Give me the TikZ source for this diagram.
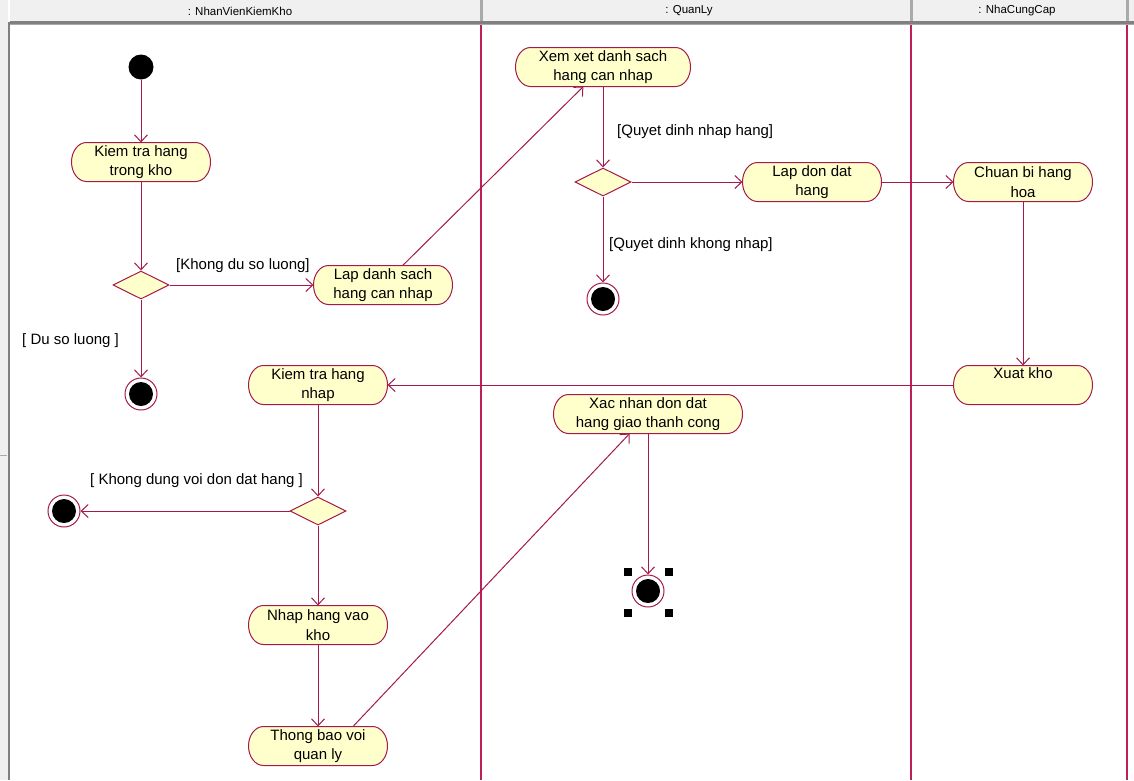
\documentclass[tikz,border=0pt]{standalone}
\usepackage{fontspec}
\setmainfont{Liberation Sans}
\usetikzlibrary{shapes.geometric,arrows.meta}
\pgfdeclarelayer{bg}
\pgfdeclarelayer{shp}
\pgfsetlayers{bg,shp,main}
\definecolor{lc}{RGB}{165,25,75}
\definecolor{ll}{RGB}{190,30,90}
\definecolor{nf}{RGB}{255,255,204}
\definecolor{hg}{RGB}{240,240,240}
\definecolor{hd}{RGB}{128,128,128}
\definecolor{hl}{RGB}{170,170,170}
\newcommand\myfont{\fontsize{15}{19.5}\selectfont}
\newcommand\myhfont{\fontsize{11.5}{13}\selectfont}
\begin{document}
\begin{tikzpicture}[x=1pt,y=-1pt,
  act/.style={rectangle, minimum width=109pt, minimum height=39pt, inner sep=0pt,
    outer xsep=15pt, outer ysep=0pt, align=center, font=\myfont},
  actshape/.style={draw=lc, fill=nf, line width=1pt},
  dec/.style={diamond, draw=lc, fill=nf, line width=1pt, minimum width=56pt, minimum height=28pt, inner sep=0pt},
  startn/.style={circle, fill=black, minimum size=25pt, inner sep=0pt},
  endn/.style={circle, draw=lc, fill=white, line width=1pt, minimum size=32pt, inner sep=0pt,
    path picture={\fill[black] (path picture bounding box.center) circle (12pt);}},
  flow/.style={draw=lc, line width=1pt, -{Straight Barb[length=7pt,width=13pt]}},
  guard/.style={inner sep=0pt, anchor=west, font=\myfont},
  lane/.style={draw=ll, line width=2pt},
  hdr/.style={inner sep=0pt, font=\myhfont},
  handle/.style={fill=black}
]
\useasboundingbox (0,0) rectangle (1134,780);
\begin{pgfonlayer}{bg}
\fill[white] (0,0) rectangle (1134,780);
% left strip
\fill[hg] (0,0) rectangle (8,780);
\fill[hd] (8,22) rectangle (10,780);
\draw[hl] (0,455) -- (7,455);
% header
\fill[hg] (10,0) rectangle (1134,21);
\fill[hd] (10,21) rectangle (1134,24);
\fill[hl] (10,24) rectangle (1134,25);
\fill[hl] (480,0) rectangle (483,21);
\fill[hl] (910,0) rectangle (913,21);
\fill[hl] (1126,0) rectangle (1129,21);
% lanes
\draw[lane] (481,25) -- (481,780);
\draw[lane] (911,25) -- (911,780);
\draw[lane] (1127,25) -- (1127,780);
\end{pgfonlayer}
\node[hdr] (h1) at (240,11) {: NhanVienKiemKho};
\node[hdr] (h2) at (689,11) {: QuanLy};
\node[hdr] (h3) at (1017,11) {: NhaCungCap};

% nodes
\node[startn] (init) at (141,67) {};
\node[act] (kt1) at (141,162) {Kiem tra hang\\trong kho};
\node[dec] (d1) at (141,285) {};
\node[act] (lapds) at (383,285) {Lap danh sach\\hang can nhap};
\node[endn] (f1) at (141,394) {};
\node[act, minimum width=145pt] (xemxet) at (603,67) {Xem xet danh sach\\hang can nhap};
\node[dec] (d2) at (603,182) {};
\node[act] (lapdon) at (812,182) {Lap don dat\\hang};
\node[endn] (f2) at (603,299) {};
\node[act] (chuanbi) at (1023,182) {Chuan bi hang\\hoa};
\node[act] (xuatkho) at (1023,385) {Xuat kho\\[-2pt]\strut};
\node[act] (ktnhap) at (318,385) {Kiem tra hang\\nhap};
\node[act, minimum width=159pt] (xacnhan) at (648,414) {Xac nhan don dat\\hang giao thanh cong};
\node[dec] (d3) at (318,511) {};
\node[endn] (f3) at (64,511) {};
\node[act] (nhaphang) at (318,625) {Nhap hang vao\\kho};
\node[act] (thongbao) at (318,746) {Thong bao voi\\quan ly};
\node[endn] (f4) at (648,591) {};

% activity outlines (ends as elliptic arcs)
\begin{pgfonlayer}{shp}
\foreach \n in {kt1,lapds,xemxet,lapdon,chuanbi,xuatkho,ktnhap,xacnhan,nhaphang,thongbao}{
  \draw[actshape] ([xshift=15pt]\n.north west) -- ([xshift=-15pt]\n.north east)
    arc[start angle=90, end angle=-90, x radius=15pt, y radius=19.5pt]
    -- ([xshift=15pt]\n.south west)
    arc[start angle=270, end angle=90, x radius=15pt, y radius=19.5pt] -- cycle;
}
\end{pgfonlayer}

% selection handles
\fill[handle] (623.5,567.5) rectangle +(8,8);
\fill[handle] (664.5,567.5) rectangle +(8,8);
\fill[handle] (623.5,608.5) rectangle +(8,8);
\fill[handle] (664.5,608.5) rectangle +(8,8);

% connectors
\draw[flow] (init) -- (kt1);
\draw[flow] (kt1) -- (d1);
\draw[flow] (d1) -- (lapds);
\draw[flow] (d1) -- (f1);
\draw[flow] (lapds) -- (xemxet);
\draw[flow] (xemxet) -- (d2);
\draw[flow] (d2) -- (lapdon);
\draw[flow] (d2) -- (f2);
\draw[flow] (lapdon) -- (chuanbi);
\draw[flow] (chuanbi) -- (xuatkho);
\draw[flow] (xuatkho) -- (ktnhap);
\draw[flow] (ktnhap) -- (d3);
\draw[flow] (d3) -- (f3);
\draw[flow] (d3) -- (nhaphang);
\draw[flow] (nhaphang) -- (thongbao);
\draw[flow] ([xshift=35pt]thongbao.north) -- (xacnhan);
\draw[flow] (xacnhan) -- (f4);

% guards
\node[guard] (g1) at (176,266) {[Khong du so luong]};
\node[guard] (g2) at (22,341) {[ Du so luong ]};
\node[guard] (g3) at (617,132) {[Quyet dinh nhap hang]};
\node[guard] (g4) at (609,245) {[Quyet dinh khong nhap]};
\node[guard] (g5) at (90,481) {[ Khong dung voi don dat hang ]};
\end{tikzpicture}
\end{document}
